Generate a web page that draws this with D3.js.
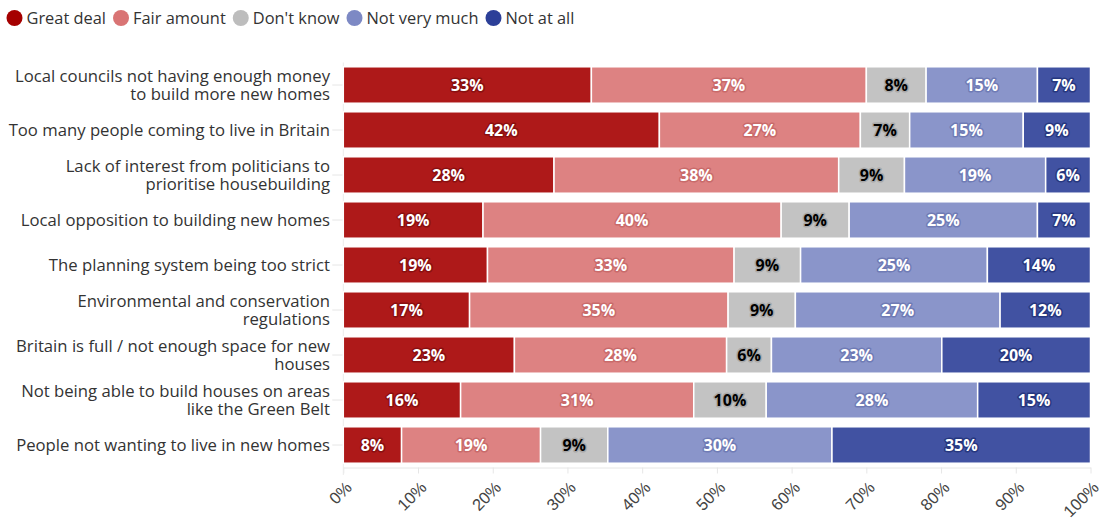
<!DOCTYPE html>
<html>
<head>
<meta charset="utf-8">
<script src="https://cdn.jsdelivr.net/npm/d3@7"></script>
<style>
  html, body { margin: 0; padding: 0; background: #fff; }
  svg { display: block; font-family: "Open Sans", sans-serif; }
</style>
</head>
<body>
<svg id="chart" width="1103" height="530"></svg>
<script>
// ---- Data ----
const seriesNames = ["Great deal", "Fair amount", "Don't know", "Not very much", "Not at all"];
const seriesColors = ["#a50000", "#d97474", "#bdbdbd", "#7d89c4", "#2c3f98"];
const labelColors = ["#fff", "#fff", "#000", "#fff", "#fff"];
const haloColors = ["#8a0f10", "#c96a6a", "#a9a9a9", "#6f7bb5", "#26377f"];

const categories = [
  ["Local councils not having enough money", "to build more new homes"],
  ["Too many people coming to live in Britain"],
  ["Lack of interest from politicians to", "prioritise housebuilding"],
  ["Local opposition to building new homes"],
  ["The planning system being too strict"],
  ["Environmental and conservation", "regulations"],
  ["Britain is full / not enough space for new", "houses"],
  ["Not being able to build houses on areas", "like the Green Belt"],
  ["People not wanting to live in new homes"]
];

const greatDeal   = [33.2, 42.3, 28.2, 18.7, 19.3, 16.9, 22.9, 15.7, 7.8];
const fairAmount  = [36.8, 26.9, 38.1, 39.9, 33.0, 34.6, 28.4, 31.2, 18.6];
const dontKnow    = [8.0, 6.6, 8.8, 9.1, 8.9, 9.0, 6.0, 9.7, 9.0];
const notVeryMuch = [14.9, 15.2, 18.9, 25.2, 25.0, 27.4, 22.8, 28.3, 30.0];
const notAtAll    = [7.1, 9.0, 6.0, 7.1, 13.8, 12.1, 19.9, 15.1, 34.6];

const xTicks = [0, 10, 20, 30, 40, 50, 60, 70, 80, 90, 100];

// ---- Build table ----
const seriesValues = [greatDeal, fairAmount, dontKnow, notVeryMuch, notAtAll];
const rows = categories.map((c, i) => {
  const r = { id: i, label: c };
  seriesNames.forEach((s, j) => { r[s] = seriesValues[j][i]; });
  return r;
});
const stacked = d3.stack().keys(seriesNames)(rows);

const svg = d3.select("#chart");
const x = d3.scaleLinear().domain([0, 100]).range([343.3, 1090.5]);
const y = d3.scaleBand().domain(rows.map(r => r.id)).range([62.5, 467.5])
  .paddingInner(0.19).paddingOuter(0.095);
const color = d3.scaleOrdinal().domain(seriesNames).range(seriesColors);

// ---- Axes ----
const gx = svg.append("g").attr("transform", `translate(0,${467.5})`)
  .call(d3.axisBottom(x).tickValues(xTicks).tickFormat(d => d + "%").tickSize(6).tickSizeOuter(0));
gx.select(".domain").attr("stroke", "#e6e6e6");
gx.selectAll(".tick line").attr("stroke", "#e6e6e6");
gx.selectAll(".tick text")
  .attr("fill", "#444")
  .style("font-size", "16.5px")
  .attr("text-anchor", "end")
  .attr("dy", null)
  .attr("y", 0)
  .attr("transform", "translate(9,21) rotate(-45)");

const gy = svg.append("g").attr("transform", `translate(${343.3},0)`)
  .call(d3.axisLeft(y).tickSize(11).tickSizeOuter(0).tickFormat(""));
gy.select(".domain").attr("stroke", "#ececec");
gy.selectAll(".tick line").attr("stroke", "#e6e6e6");
gy.select(".domain").attr("d", `M0,${62.5}V${475}`);

// category labels
const lab = svg.append("g");
rows.forEach(r => {
  const cy = y(r.id) + y.bandwidth() / 2;
  const n = r.label.length;
  const t = lab.append("text")
    .attr("x", 330)
    .attr("text-anchor", "end")
    .attr("fill", "#333")
    .style("font-size", "16.7px");
  r.label.forEach((line, k) => {
    t.append("tspan").attr("x", 330)
      .attr("y", cy + (k - (n - 1) / 2) * 18)
      .attr("dy", "0.35em")
      .text(line);
  });
});

// ---- Bars ----
const layers = svg.append("g").selectAll("g").data(stacked).join("g")
  .attr("fill", d => color(d.key));
layers.selectAll("rect").data(d => d).join("rect")
  .attr("x", d => x(d[0]))
  .attr("y", d => y(d.data.id))
  .attr("width", d => x(d[1]) - x(d[0]))
  .attr("height", y.bandwidth())
  .attr("fill-opacity", 0.9)
  .attr("stroke", "#fff")
  .attr("stroke-width", 1.5);

// ---- Bar labels ----
stacked.forEach((layer, j) => {
  svg.append("g").selectAll("text").data(layer).join("text")
    .attr("x", d => (x(d[0]) + x(d[1])) / 2)
    .attr("y", d => y(d.data.id) + y.bandwidth() / 2)
    .attr("dy", "0.36em")
    .attr("text-anchor", "middle")
    .attr("fill", labelColors[j])
    .attr("stroke", haloColors[j])
    .attr("stroke-width", 3)
    .attr("stroke-linejoin", "round")
    .attr("paint-order", "stroke")
    .style("font-size", "16px")
    .style("font-weight", "bold")
    .text(d => Math.round(d[1] - d[0]) + "%");
});

// ---- Legend ----
const leg = svg.append("g");
let lx = 6.5;
seriesNames.forEach((s, j) => {
  leg.append("circle").attr("cx", lx + 8).attr("cy", 18).attr("r", 8).attr("fill", seriesColors[j]);
  const t = leg.append("text").attr("x", lx + 20).attr("y", 18).attr("dy", "0.35em")
    .attr("fill", "#333").style("font-size", "16.4px").text(s);
  lx += 20 + t.node().getComputedTextLength() + 7;
});
</script>
</body>
</html>
